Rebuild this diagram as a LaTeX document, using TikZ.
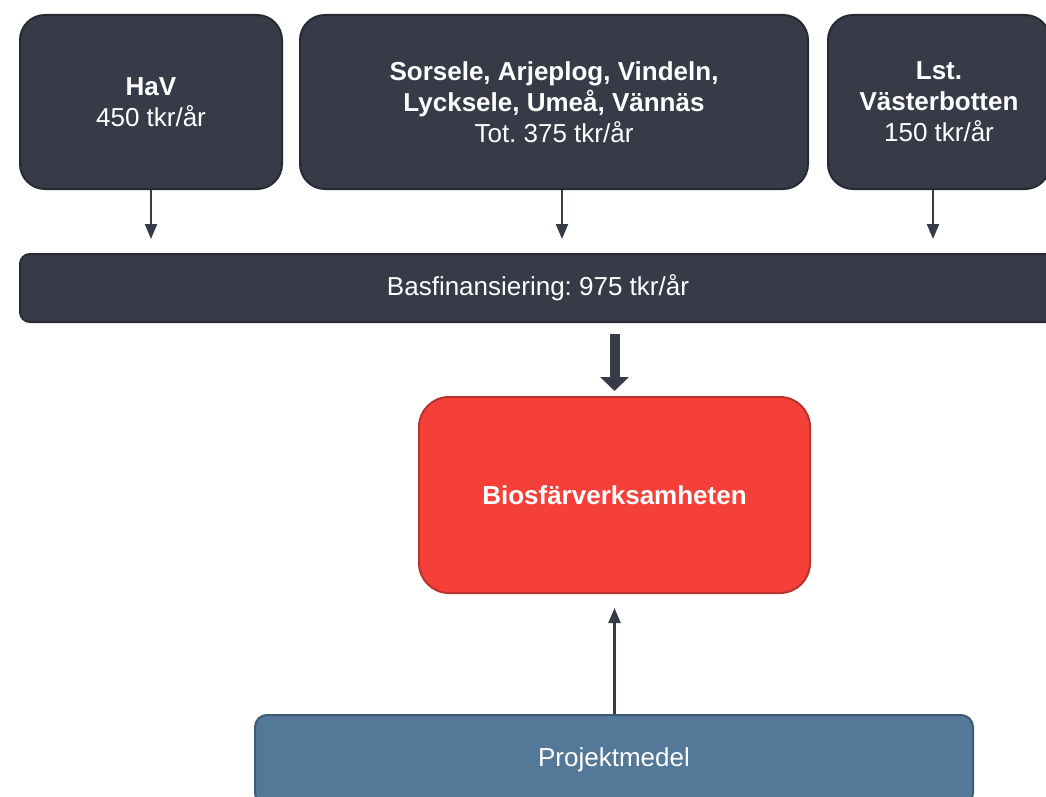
\documentclass[tikz,border=0pt]{standalone}
\usepackage{fontspec}
\setmainfont{Liberation Sans}
\usetikzlibrary{arrows.meta}
\frenchspacing
\definecolor{slate}{HTML}{363B47}
\definecolor{slateline}{HTML}{262A32}
\definecolor{biored}{HTML}{F5403A}
\definecolor{bioline}{HTML}{B8332E}
\definecolor{projblue}{HTML}{547898}
\definecolor{projline}{HTML}{3E5A76}
\tikzset{box/.style = {rectangle, line width=2pt, text=white, align=center,
                       font=\fontsize{26}{31}\selectfont, inner sep=0pt},
         funder/.style = {box, fill=slate, draw=slateline, rounded corners=25pt,
                          minimum height=174pt},
         flow/.style = {line width=2.2pt, draw=slate,
                        -{Triangle[width=12pt, length=15pt]}, shorten >=14pt},
         bigflow/.style = {line width=10pt, draw=slate,
                           -{Triangle[width=28pt, length=14pt]},
                           shorten <=11pt, shorten >=5pt}}

\begin{document}
\begin{tikzpicture}[x=1pt, y=-1pt]
    \clip (0, 0) rectangle (1046, 797);
    \node [funder, minimum width=262pt] (hav) at (151, 102)
          {\textbf{HaV}\\450 tkr/år};
    \node [funder, minimum width=508pt] (kommuner) at (554, 102)
          {\textbf{Sorsele, Arjeplog, Vindeln,}\\\textbf{Lycksele, Umeå, Vännäs}\\Tot. 375 tkr/år};
    \node [funder, minimum width=222pt] (lst) at (939, 102)
          {\textbf{Lst.}\\\textbf{Västerbotten}\\150 tkr/år};
    \node [box, fill=slate, draw=slateline, rounded corners=10pt,
           minimum width=1036pt, minimum height=68pt] (bas) at (538, 288)
          {Basfinansiering: 975 tkr/år};
    \node [box, fill=biored, draw=bioline, rounded corners=30pt,
           minimum width=391pt, minimum height=196pt] (bio) at (614.5, 495)
          {\textbf{Biosfärverksamheten}};
    \node [box, fill=projblue, draw=projline, rounded corners=12pt,
           minimum width=718pt, minimum height=90pt] (proj) at (614, 760)
          {Projektmedel};
    \draw [flow] (hav.south) -- (hav.south |- bas.north);
    \draw [flow] ([xshift=8pt]kommuner.south) -- ([xshift=8pt]kommuner.south |- bas.north);
    \draw [flow] ([xshift=-6pt]lst.south) -- ([xshift=-6pt]lst.south |- bas.north);
    \draw [bigflow] (bas.south -| bio.north) -- (bio.north);
    \draw [flow] (proj.north -| bio.south) -- (bio.south);
\end{tikzpicture}
\end{document}
